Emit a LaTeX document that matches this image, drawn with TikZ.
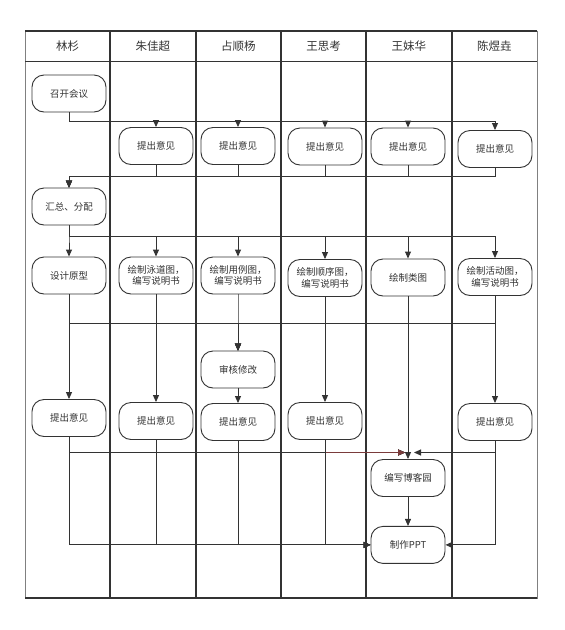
\documentclass[tikz,border=0pt]{standalone}
\usepackage{fontspec}
\setmainfont{Noto Sans CJK SC}
\usetikzlibrary{arrows.meta, positioning, calc}
\definecolor{lineGray}{HTML}{333333}
\definecolor{selRed}{HTML}{7A3B3B}

\begin{document}
\begin{tikzpicture}[
    x=1pt, y=-1pt,
    act/.style={draw=lineGray, fill=white, line width=0.9pt, rounded corners=12pt, minimum width=74pt, minimum height=37pt,
        font=\fontsize{9.5}{11.5}\selectfont, text=lineGray, align=center, inner sep=2pt},
    head/.style={font=\fontsize{11.5}{13}\selectfont, text=lineGray},
    lanesep/.style={line width=2pt, color=lineGray},
    arr/.style={-{Triangle[length=7pt, width=6pt]}, line width=0.9pt, color=lineGray},
]
    \useasboundingbox (0,0) rectangle (565,630);

    % 泳道
    \draw[line width=1pt, color=black!50] (25,31) rectangle (537,598);
    \draw[line width=1.4pt, color=lineGray] (25,31) -- (537,31);
    \draw[line width=0.9pt, color=lineGray] (25,61) -- (537,61);
    \draw[line width=1.4pt, color=lineGray] (25,598) -- (537,598);
    \foreach \i in {1,...,5}
        \draw[lanesep] ({25+\i*85.33},31) -- ({25+\i*85.33},598);
    \foreach \who [count=\i] in {林杉, 朱佳超, 占顺杨, 王思考, 王妹华, 陈煜垚}
        \node[head] (h\i) at ({25+(\i-0.5)*85.33},46) {\who};

    % 第一轮
    \node[act] (kaihui) at (69,93.5) {召开会议};
    \node[act] (tcZhu) at (156,146) {提出意见};
    \node[act] (tcZhan) at (238,146) {提出意见};
    \node[act] (tcWsk) at (325,146.5) {提出意见};
    \node[act] (tcWmh) at (408,146.5) {提出意见};
    \node[act] (tcChen) at (495,149) {提出意见};
    \node[act] (hz) at (69,206.5) {汇总、分配};

    % 分工
    \node[act] (sj) at (69,275.5) {设计原型};
    \node[act] (yd) at (156,275.5) {绘制泳道图，\\编写说明书};
    \node[act] (yl) at (238,275.5) {绘制用例图，\\编写说明书};
    \node[act] (sx) at (325,278) {绘制顺序图，\\编写说明书};
    \node[act] (lt) at (408,277.5) {绘制类图};
    \node[act] (hd) at (495,277) {绘制活动图，\\编写说明书};
    \node[act] (sh) at (238,369.5) {审核修改};

    % 第二轮意见
    \node[act] (fbLin) at (69,418) {提出意见};
    \node[act] (fbZhu) at (156,421) {提出意见};
    \node[act] (fbZhan) at (238,422) {提出意见};
    \node[act] (fbWsk) at (325,421) {提出意见};
    \node[act] (fbChen) at (495,422) {提出意见};
    \node[act] (blog) at (408,478) {编写博客园};
    \node[act, below=29pt of blog] (ppt) {制作PPT};

    % 汇线高度
    \coordinate (busA) at (0,121);
    \coordinate (busB) at (0,176);
    \coordinate (busC) at (0,236);
    \coordinate (busD) at (0,323);
    \coordinate (busE) at (0,452.5);
    \coordinate (joinL) at ($(blog.north |- busE)+(-3,0)$);
    \coordinate (joinR) at ($(blog.north |- busE)+(6,0)$);

    % 召开会议 -> 各人提出意见 -> 汇总
    \foreach \n in {tcZhu, tcZhan, tcWsk, tcWmh, tcChen}
        \draw[arr] (kaihui.south) -- (kaihui.south |- busA) -| (\n.north);
    \foreach \n in {tcZhu, tcZhan, tcWsk, tcWmh, tcChen}
        \draw[arr] (\n.south) -- (\n.south |- busB) -| (hz.north);

    % 分配任务，再交审核
    \foreach \n in {sj, yd, yl, sx, lt, hd}
        \draw[arr] (hz.south) -- (hz.south |- busC) -| (\n.north);
    \foreach \n in {sj, yd, yl, sx, lt, hd}
        \draw[arr] (\n.south) -- (\n.south |- busD) -| (sh.north);

    % 各自向下
    \draw[arr] (sj) -- (fbLin);
    \draw[arr] (yd) -- (fbZhu);
    \draw[arr] (sh) -- (fbZhan);
    \draw[arr] (sx) -- (fbWsk);
    \draw[arr] (hd) -- (fbChen);
    \draw[arr] (lt) -- (blog);

    % 汇入编写博客园
    \foreach \n in {fbLin, fbZhu, fbZhan}
        \draw[arr] (\n.south) |- (joinL);
    \draw[arr, color=selRed] (fbWsk.south) |- (joinL);
    \draw[arr] (fbChen.south) |- (joinR);

    % 汇入制作PPT
    \foreach \n in {fbLin, fbZhu, fbZhan, fbWsk}
        \draw[arr] (\n.south) |- (ppt.west);
    \draw[arr] (fbChen.south) |- (ppt.east);
    \draw[arr] (blog) -- (ppt);
\end{tikzpicture}
\end{document}
